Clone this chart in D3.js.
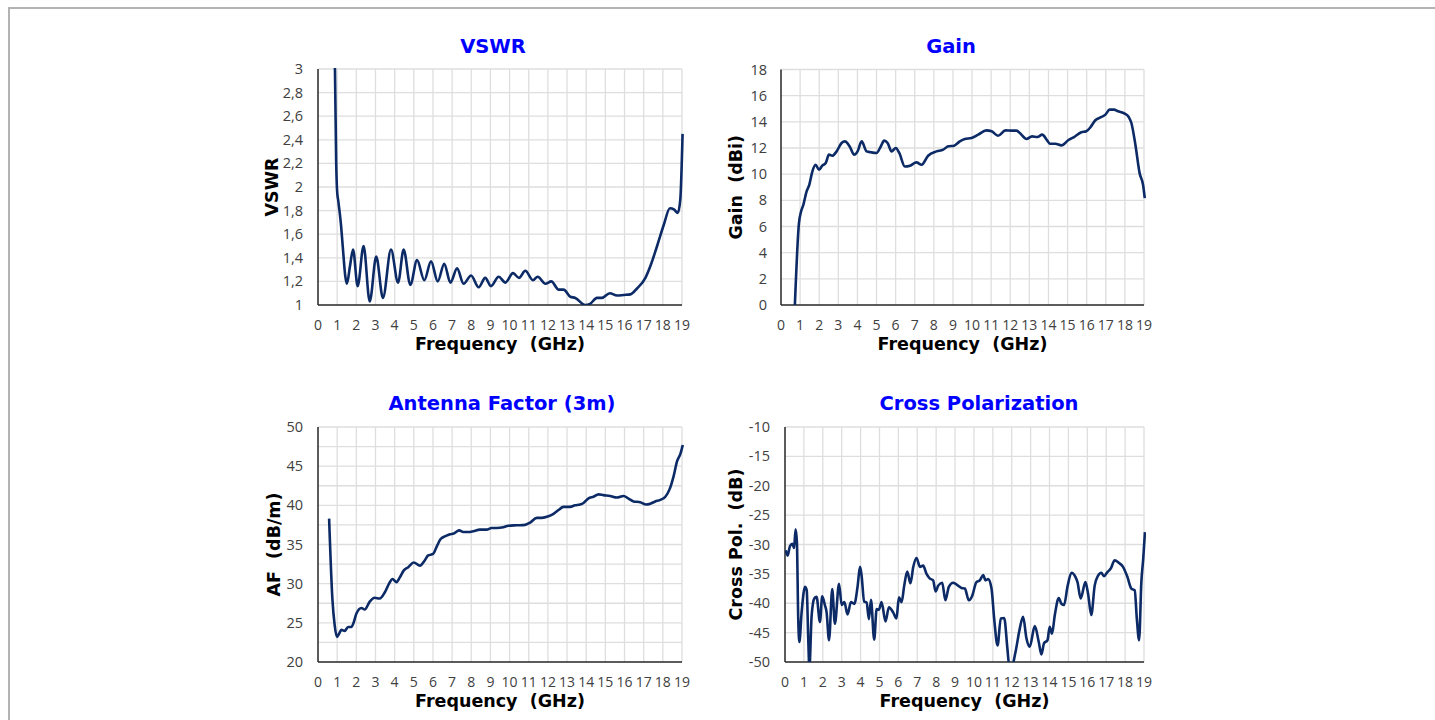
<!DOCTYPE html>
<html>
<head>
<meta charset="utf-8">
<script src="https://cdn.jsdelivr.net/npm/d3@7"></script>
<style>
  body { margin: 0; background: #fff; }
  svg { display: block; font-family: "DejaVu Sans", sans-serif; }
  text { white-space: pre; }
  .tick-label { font-family: "Open Sans", "DejaVu Sans", sans-serif; }
</style>
</head>
<body>
<svg id="chart" width="1435" height="720"></svg>
<script>
// frequency ticks shared by all four panels
var freqTicks = d3.range(0, 20);

// VSWR
var vswrFreq = [0.86, 0.95, 1.0, 1.06, 1.2, 1.3, 1.42, 1.51, 1.67, 1.83, 2.07, 2.38, 2.70, 3.04, 3.39, 3.81, 4.18, 4.47, 4.82, 5.17, 5.55, 5.90, 6.25, 6.59, 6.91, 7.26, 7.60, 7.99, 8.39, 8.73, 9.03, 9.43, 9.78, 10.18, 10.49, 10.82, 11.22, 11.47, 11.87, 12.18, 12.56, 12.82, 13.17, 13.43, 13.95, 14.2, 14.56, 14.82, 15.23, 15.61, 15.96, 16.30, 16.65, 17.09, 17.35, 17.70, 18.05, 18.37, 18.58, 18.78, 18.91, 19.03];
var vswrVal  = [3.3, 2.2, 1.96, 1.88, 1.68, 1.48, 1.25, 1.18, 1.33, 1.47, 1.16, 1.50, 1.03, 1.41, 1.06, 1.47, 1.19, 1.47, 1.17, 1.38, 1.21, 1.37, 1.20, 1.35, 1.19, 1.31, 1.18, 1.25, 1.15, 1.23, 1.16, 1.24, 1.19, 1.27, 1.23, 1.29, 1.21, 1.24, 1.18, 1.20, 1.13, 1.13, 1.07, 1.06, 1.00, 1.01, 1.06, 1.06, 1.10, 1.08, 1.085, 1.09, 1.14, 1.23, 1.33, 1.50, 1.68, 1.82, 1.81, 1.78, 1.89, 2.45];
var vswrTicks = [1, 1.2, 1.4, 1.6, 1.8, 2, 2.2, 2.4, 2.6, 2.8, 3];

// Gain
var gainFreq = [0.70, 0.94, 1.05, 1.17, 1.34, 1.48, 1.64, 1.81, 1.99, 2.16, 2.34, 2.51, 2.68, 2.91, 3.17, 3.35, 3.61, 3.83, 4.01, 4.22, 4.48, 4.71, 5.0, 5.21, 5.40, 5.58, 5.79, 6.01, 6.19, 6.48, 6.75, 7.09, 7.36, 7.70, 8.14, 8.49, 8.75, 9.06, 9.36, 9.62, 9.97, 10.32, 10.75, 11.02, 11.36, 11.75, 12.06, 12.32, 12.55, 12.85, 13.14, 13.42, 13.67, 13.94, 14.07, 14.36, 14.68, 15.03, 15.34, 15.72, 15.98, 16.21, 16.45, 16.77, 16.98, 17.20, 17.43, 17.64, 17.99, 18.20, 18.34, 18.55, 18.77, 18.95, 19.04];
var gainVal  = [-1.0, 6.25, 7.15, 7.66, 8.68, 9.19, 10.2, 10.72, 10.34, 10.65, 10.85, 11.49, 11.41, 11.74, 12.38, 12.51, 12.08, 11.49, 11.74, 12.51, 11.74, 11.67, 11.62, 12.08, 12.56, 12.38, 11.74, 12.0, 11.62, 10.59, 10.65, 10.9, 10.72, 11.41, 11.74, 11.87, 12.13, 12.18, 12.51, 12.69, 12.76, 13.02, 13.35, 13.28, 12.94, 13.35, 13.33, 13.33, 13.07, 12.69, 12.89, 12.84, 13.02, 12.56, 12.33, 12.33, 12.2, 12.59, 12.84, 13.2, 13.28, 13.61, 14.12, 14.37, 14.55, 14.93, 14.93, 14.81, 14.63, 14.37, 13.91, 12.25, 10.08, 9.19, 8.17];
var gainTicks = [0, 2, 4, 6, 8, 10, 12, 14, 16, 18];

// Antenna factor (3m)
var afFreq = [0.58, 0.75, 0.87, 0.99, 1.10, 1.22, 1.39, 1.57, 1.74, 1.87, 2.0, 2.27, 2.44, 2.70, 2.96, 3.22, 3.49, 3.71, 3.89, 4.10, 4.27, 4.48, 4.71, 5.0, 5.32, 5.58, 5.75, 6.01, 6.19, 6.40, 6.68, 6.89, 7.09, 7.37, 7.58, 7.84, 8.11, 8.45, 8.80, 9.06, 9.33, 9.67, 9.94, 10.37, 10.81, 11.07, 11.42, 11.68, 12.03, 12.29, 12.55, 12.81, 13.16, 13.42, 13.68, 13.86, 14.12, 14.38, 14.64, 14.90, 15.25, 15.60, 15.95, 16.21, 16.47, 16.82, 17.13, 17.34, 17.60, 17.87, 18.13, 18.36, 18.57, 18.74, 18.92, 19.04];
var afVal  = [38.3, 28.1, 24.7, 23.2, 23.6, 24.1, 23.96, 24.47, 24.47, 25.1, 26.17, 26.9, 26.7, 27.7, 28.2, 28.1, 28.9, 30.0, 30.6, 30.2, 30.8, 31.7, 32.1, 32.7, 32.3, 33.0, 33.6, 33.8, 34.7, 35.7, 36.1, 36.3, 36.4, 36.8, 36.6, 36.6, 36.7, 36.9, 36.9, 37.1, 37.1, 37.2, 37.4, 37.45, 37.5, 37.8, 38.4, 38.4, 38.6, 38.9, 39.4, 39.8, 39.8, 40.0, 40.1, 40.3, 40.9, 41.1, 41.4, 41.3, 41.2, 41.0, 41.2, 40.85, 40.5, 40.4, 40.1, 40.2, 40.5, 40.7, 41.1, 42.1, 43.8, 45.6, 46.6, 47.7];
var afTicks = [20, 25, 30, 35, 40, 45, 50];

// Cross polarization
var cpFreq = [0.04, 0.14, 0.26, 0.39, 0.48, 0.56, 0.63, 0.70, 0.76, 0.88, 1.06, 1.15, 1.23, 1.29, 1.41, 1.55, 1.67, 1.85, 1.97, 2.11, 2.20, 2.33, 2.50, 2.64, 2.86, 3.00, 3.14, 3.31, 3.49, 3.67, 3.84, 3.97, 4.05, 4.19, 4.32, 4.44, 4.55, 4.72, 4.85, 4.97, 5.11, 5.32, 5.50, 5.73, 5.90, 6.03, 6.17, 6.31, 6.47, 6.64, 6.79, 6.96, 7.14, 7.31, 7.49, 7.67, 7.84, 7.97, 8.11, 8.32, 8.49, 8.67, 8.90, 9.16, 9.34, 9.52, 9.73, 9.90, 10.13, 10.31, 10.49, 10.61, 10.75, 10.93, 11.07, 11.25, 11.42, 11.60, 11.77, 11.86, 12.02, 12.20, 12.42, 12.60, 12.78, 12.95, 13.22, 13.43, 13.57, 13.71, 13.89, 14.01, 14.13, 14.28, 14.49, 14.63, 14.77, 14.95, 15.16, 15.37, 15.48, 15.65, 15.90, 16.04, 16.21, 16.39, 16.57, 16.74, 16.88, 17.06, 17.24, 17.45, 17.66, 17.89, 18.12, 18.33, 18.51, 18.62, 18.74, 18.86, 18.96, 19.05];
var cpVal  = [-31.0, -31.9, -30.3, -29.9, -30.6, -27.4, -29.6, -42.6, -46.6, -41.5, -37.2, -37.8, -46.0, -51.0, -42.1, -39.2, -38.9, -43.2, -38.8, -40.3, -41.5, -46.3, -37.6, -43.5, -36.7, -40.3, -39.8, -41.9, -39.8, -40.1, -37.2, -33.8, -35.2, -39.7, -39.9, -42.7, -39.4, -46.2, -41.0, -41.1, -39.8, -43.1, -40.7, -41.6, -42.6, -39.0, -39.8, -37.0, -34.6, -36.6, -33.8, -32.3, -33.8, -33.6, -35.0, -35.8, -36.1, -38.0, -37.0, -36.5, -39.5, -37.2, -36.5, -37.0, -37.4, -37.5, -39.5, -38.8, -36.4, -36.1, -35.2, -36.1, -35.9, -37.5, -42.6, -47.2, -42.6, -42.5, -47.7, -50.4, -50.6, -48.3, -44.4, -42.3, -46.0, -47.4, -43.9, -46.6, -48.7, -46.8, -46.3, -44.0, -45.2, -42.0, -39.1, -40.1, -40.3, -37.2, -34.8, -35.5, -36.4, -39.2, -36.4, -38.4, -42.0, -37.0, -35.3, -34.8, -35.4, -34.7, -34.1, -32.7, -33.1, -33.8, -35.5, -37.5, -37.8, -42.6, -46.3, -36.4, -32.4, -27.9];
var cpTicks = [-50, -45, -40, -35, -30, -25, -20, -15, -10];

var lineColor = "#0c2a66";
var commaFmt = function(d) { return String(+d.toFixed(1)).replace(".", ","); };

var panels = [
  {id: "vswr", title: "VSWR", titleX: 493, titleY: 53, ylabel: "VSWR", ylabelX: 278,
   left: 318, right: 682, top: 69, bottom: 305, ydom: [1, 3], yticks: vswrTicks, ygrid: vswrTicks,
   fmt: commaFmt, labelRight: 303, xs: vswrFreq, ys: vswrVal},
  {id: "gain", title: "Gain", titleX: 951, titleY: 53, ylabel: "Gain  (dBi)", ylabelX: 742,
   left: 781, right: 1144, top: 69.5, bottom: 305, ydom: [0, 18], yticks: gainTicks, ygrid: gainTicks,
   fmt: String, labelRight: 767, xs: gainFreq, ys: gainVal},
  {id: "af", title: "Antenna Factor (3m)", titleX: 502, titleY: 410, ylabel: "AF  (dB/m)", ylabelX: 280,
   left: 318, right: 682, top: 427, bottom: 662, ydom: [20, 50], yticks: afTicks, ygrid: d3.range(20, 50.1, 2.5),
   fmt: String, labelRight: 303, xs: afFreq, ys: afVal},
  {id: "cp", title: "Cross Polarization", titleX: 979, titleY: 410, ylabel: "Cross Pol.  (dB)", ylabelX: 741.5,
   left: 785, right: 1144, top: 427, bottom: 662, ydom: [-50, -10], yticks: cpTicks, ygrid: cpTicks,
   fmt: String, labelRight: 770, xs: cpFreq, ys: cpVal}
];

var svg = d3.select("#chart");

// outer frame
svg.append("rect")
  .attr("x", 9).attr("y", 8)
  .attr("width", 1440).attr("height", 730)
  .attr("fill", "none")
  .attr("stroke", "#b3b3b3")
  .attr("stroke-width", 2);

var defs = svg.append("defs");

panels.forEach(function(p) {
  var x = d3.scaleLinear().domain([0, 19]).range([p.left, p.right]);
  var y = d3.scaleLinear().domain(p.ydom).range([p.bottom, p.top]);
  var g = svg.append("g").attr("class", "panel-" + p.id);

  // grid
  g.append("g").selectAll("line.vg")
    .data(freqTicks.slice(1))
    .enter().append("line")
      .attr("x1", d => x(d)).attr("x2", d => x(d))
      .attr("y1", p.top).attr("y2", p.bottom)
      .attr("stroke", "#dedede").attr("stroke-width", 1.3);
  g.append("g").selectAll("line.hg")
    .data(p.ygrid.filter(d => d > p.ydom[0]))
    .enter().append("line")
      .attr("x1", p.left).attr("x2", p.right)
      .attr("y1", d => y(d)).attr("y2", d => y(d))
      .attr("stroke", "#dedede").attr("stroke-width", 1.3);

  // axes lines
  g.append("line")
    .attr("x1", p.left).attr("x2", p.left).attr("y1", p.top).attr("y2", p.bottom)
    .attr("stroke", "#262626").attr("stroke-width", 1.5);
  g.append("line")
    .attr("x1", p.left).attr("x2", p.right).attr("y1", p.bottom).attr("y2", p.bottom)
    .attr("stroke", "#262626").attr("stroke-width", 1.5);

  // tick labels
  g.append("g").selectAll("text")
    .data(freqTicks)
    .enter().append("text")
      .attr("class", "tick-label")
      .attr("x", d => x(d))
      .attr("y", p.bottom + 25)
      .attr("text-anchor", "middle")
      .attr("font-size", 14)
      .attr("fill", "#404040")
      .text(d => d);
  g.append("g").selectAll("text")
    .data(p.yticks)
    .enter().append("text")
      .attr("class", "tick-label")
      .attr("x", p.labelRight)
      .attr("y", d => y(d) + 5)
      .attr("text-anchor", "end")
      .attr("font-size", 14.5)
      .attr("fill", "#404040")
      .text(p.fmt);

  // titles
  g.append("text")
    .attr("x", p.titleX).attr("y", p.titleY)
    .attr("text-anchor", "middle")
    .attr("font-size", 19.5).attr("font-weight", "bold")
    .attr("fill", "#0000ff")
    .text(p.title);
  g.append("text")
    .attr("x", (p.left + p.right) / 2).attr("y", p.bottom + 45)
    .attr("text-anchor", "middle")
    .attr("font-size", 17.5).attr("font-weight", "bold")
    .attr("fill", "#000")
    .text("Frequency  (GHz)");
  g.append("text")
    .attr("transform", "translate(" + p.ylabelX + "," + ((p.top + p.bottom) / 2) + ") rotate(-90)")
    .attr("text-anchor", "middle")
    .attr("font-size", 17.5).attr("font-weight", "bold")
    .attr("fill", "#000")
    .text(p.ylabel);

  // data line, clipped to plot area
  defs.append("clipPath").attr("id", "clip-" + p.id)
    .append("rect")
      .attr("x", p.left).attr("y", p.top - 1)
      .attr("width", p.right - p.left + 2).attr("height", p.bottom - p.top + 1);

  var pts = p.xs.map((f, i) => [f, p.ys[i]]);
  var line = d3.line()
    .x(d => x(d[0]))
    .y(d => y(d[1]))
    .curve(d3.curveMonotoneX);

  g.append("path")
    .datum(pts)
    .attr("clip-path", "url(#clip-" + p.id + ")")
    .attr("d", line)
    .attr("fill", "none")
    .attr("stroke", lineColor)
    .attr("stroke-width", 2.6)
    .attr("stroke-linejoin", "round");
});
</script>
</body>
</html>
